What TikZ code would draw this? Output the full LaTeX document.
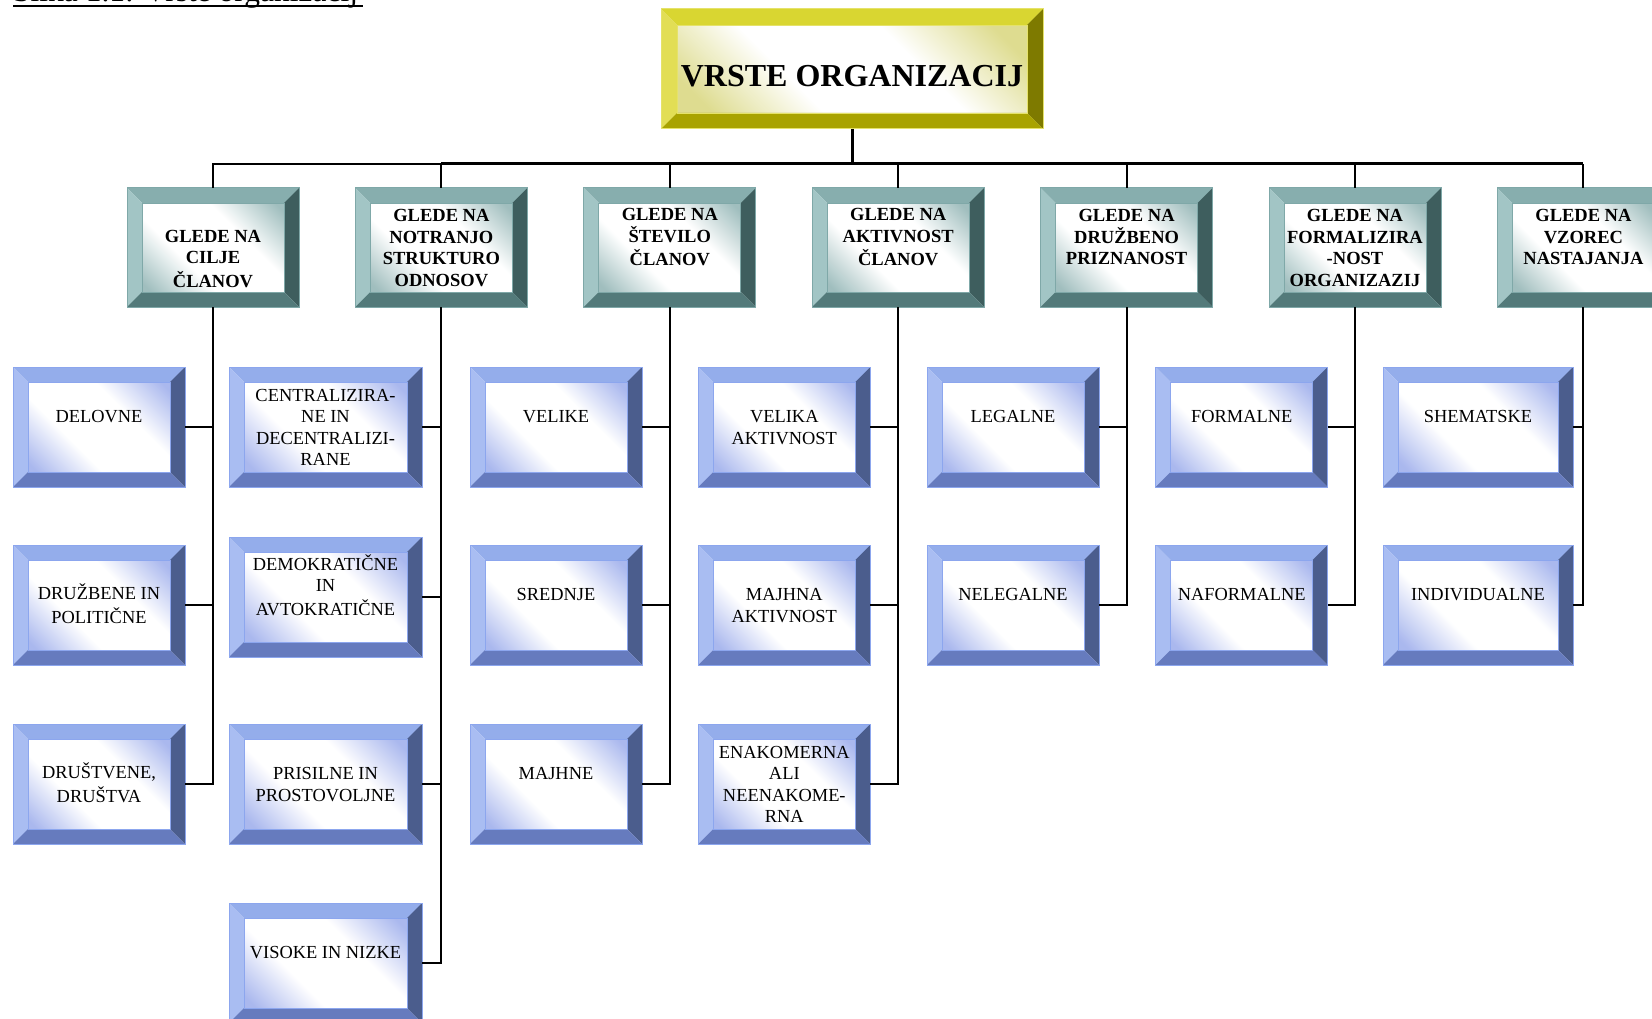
\documentclass[tikz,border=0pt]{standalone}
\usepackage{fontspec}
\setmainfont{Liberation Serif}
\usetikzlibrary{calc}
\definecolor{leafT}{HTML}{94ADEB}
\definecolor{leafL}{HTML}{A9BDF2}
\definecolor{leafR}{HTML}{4B5D8D}
\definecolor{leafB}{HTML}{667BBE}
\definecolor{leafF}{HTML}{AAB8EE}
\definecolor{leafO}{HTML}{8CA6EE}
\definecolor{catT}{HTML}{87AEAE}
\definecolor{catL}{HTML}{A2C5C5}
\definecolor{catR}{HTML}{3E5E5E}
\definecolor{catB}{HTML}{537A7A}
\definecolor{catF}{HTML}{A0BEBE}
\definecolor{catO}{HTML}{7FA8A8}
\definecolor{ttlT}{HTML}{D9D631}
\definecolor{ttlL}{HTML}{E2DE55}
\definecolor{ttlR}{HTML}{7E7A00}
\definecolor{ttlB}{HTML}{A9A300}
\definecolor{ttlF}{HTML}{DEDC90}
\definecolor{ttlO}{HTML}{E5E26A}
\pgfdeclareverticalshading{leafshade}{100bp}{color(0bp)=(leafF); color(24bp)=(leafF); color(40bp)=(white); color(60bp)=(white); color(76bp)=(leafF); color(100bp)=(leafF)}
\pgfdeclareverticalshading{catshade}{100bp}{color(0bp)=(catF); color(24bp)=(catF); color(40bp)=(white); color(60bp)=(white); color(76bp)=(catF); color(100bp)=(catF)}
\pgfdeclareverticalshading{ttlshade}{100bp}{color(0bp)=(ttlF); color(24bp)=(ttlF); color(40bp)=(white); color(60bp)=(white); color(76bp)=(ttlF); color(100bp)=(ttlF)}
\newcommand\fourl[4]{\rule{0pt}{17.3pt}#1\\\strut #2\\\strut #3\\\rule[-4.3pt]{0pt}{10pt}#4}
\newcommand\bev[7]{%
  \fill[#3] (#1.north west) -- (#1.north east) -- ($(#1.north east)+(-#2,-#2)$) -- ($(#1.north west)+(#2,-#2)$) -- cycle;
  \fill[#4] (#1.north west) -- ($(#1.north west)+(#2,-#2)$) -- ($(#1.south west)+(#2,#2)$) -- (#1.south west) -- cycle;
  \fill[#5] (#1.north east) -- (#1.south east) -- ($(#1.south east)+(-#2,#2)$) -- ($(#1.north east)+(-#2,-#2)$) -- cycle;
  \fill[#6] (#1.south west) -- ($(#1.south west)+(#2,#2)$) -- ($(#1.south east)+(-#2,#2)$) -- (#1.south east) -- cycle;
  \draw[#7, line width=1pt] (#1.north west) rectangle (#1.south east);
  \draw[#7, line width=0.8pt] ($(#1.north west)+(#2,-#2)$) rectangle ($(#1.south east)+(-#2,#2)$);
}
\tikzset{
  basebox/.style={rectangle, inner sep=0pt, outer sep=0pt, align=center, text=black},
  leaf/.style={basebox, shade, shading=leafshade, shading angle=-45, minimum width=172pt, minimum height=120pt, font=\fontsize{18.4}{21.6}\selectfont},
  cat/.style={basebox, shade, shading=catshade, shading angle=-45, minimum width=172pt, minimum height=119pt, font=\bfseries\fontsize{18.5}{21.6}\selectfont},
  ttl/.style={basebox, shade, shading=ttlshade, shading angle=-45, minimum width=382pt, minimum height=120pt, font=\bfseries\fontsize{32}{38}\selectfont},
  conn/.style={draw=black, line width=2pt},
}
\begin{document}
\begin{tikzpicture}[x=1pt, y=-1pt]
\useasboundingbox (0,0) rectangle (1652,1019);
\fill[white] (0,0) rectangle (1652,1019);
% caption (cut off at the top, as in the reference)
\node[anchor=base west, inner sep=0pt, font=\fontsize{31.5}{36}\selectfont] (cap) at (13,2) {Slika 1.1: Vrste organizacij};
\draw[line width=2pt] ([yshift=-4pt]cap.base west) -- ([yshift=-4pt,xshift=5pt]cap.base east);
% title
\node[ttl] (title) at (852,69) {\raisebox{-17.5pt}[0pt][0pt]{VRSTE ORGANIZACIJ}};
% categories
\node[cat] (k1) at (213,247.5) {\fourl{}{GLEDE NA}{CILJE}{ČLANOV}};
\node[cat] (k2) at (441.4,247.5) {\fourl{GLEDE NA}{NOTRANJO}{STRUKTURO}{ODNOSOV}};
\node[cat] (k3) at (669.8,247.5) {\fourl{GLEDE NA}{ŠTEVILO}{ČLANOV}{}};
\node[cat] (k4) at (898.2,247.5) {\fourl{GLEDE NA}{AKTIVNOST}{ČLANOV}{}};
\node[cat] (k5) at (1126.6,247.5) {\fourl{GLEDE NA}{DRUŽBENO}{PRIZNANOST}{}};
\node[cat] (k6) at (1355,247.5) {\fourl{GLEDE NA}{FORMALIZIRA}{-NOST}{ORGANIZAZIJ}};
\node[cat] (k7) at (1583.4,247.5) {\fourl{GLEDE NA}{VZOREC}{NASTAJANJA}{}};
% leaves
\node[leaf] (a1) at (99,427) {\fourl{}{DELOVNE}{}{}};
\node[leaf] (a2) at (99,605) {\fourl{}{DRUŽBENE IN}{POLITIČNE}{}};
\node[leaf] (a3) at (99,784) {\fourl{}{DRUŠTVENE,}{DRUŠTVA}{}};
\node[leaf, minimum width=193pt] (b1) at (325.5,427) {\fourl{CENTRALIZIRA-}{NE IN}{DECENTRALIZI-}{RANE}};
\node[leaf, minimum width=193pt] (b2) at (325.5,597) {\fourl{DEMOKRATIČNE}{IN}{AVTOKRATIČNE}{}};
\node[leaf, minimum width=193pt] (b3) at (325.5,784) {\fourl{}{PRISILNE IN}{PROSTOVOLJNE}{}};
\node[leaf, minimum width=193pt] (b4) at (325.5,963) {\fourl{}{VISOKE IN NIZKE}{}{}};
\node[leaf] (c1) at (556,427) {\fourl{}{VELIKE}{}{}};
\node[leaf] (c2) at (556,605) {\fourl{}{SREDNJE}{}{}};
\node[leaf] (c3) at (556,784) {\fourl{}{MAJHNE}{}{}};
\node[leaf] (d1) at (784.3,427) {\fourl{}{VELIKA}{AKTIVNOST}{}};
\node[leaf] (d2) at (784.3,605) {\fourl{}{MAJHNA}{AKTIVNOST}{}};
\node[leaf] (d3) at (784.3,784) {\fourl{ENAKOMERNA}{ALI}{NEENAKOME-}{RNA}};
\node[leaf] (e1) at (1013,427) {\fourl{}{LEGALNE}{}{}};
\node[leaf] (e2) at (1013,605) {\fourl{}{NELEGALNE}{}{}};
\node[leaf] (f1) at (1241.7,427) {\fourl{}{FORMALNE}{}{}};
\node[leaf] (f2) at (1241.7,605) {\fourl{}{NAFORMALNE}{}{}};
\node[leaf, minimum width=190pt] (g1) at (1478,427) {\fourl{}{SHEMATSKE}{}{}};
\node[leaf, minimum width=190pt] (g2) at (1478,605) {\fourl{}{INDIVIDUALNE}{}{}};
% bevels
\bev{title}{16pt}{ttlT}{ttlL}{ttlR}{ttlB}{ttlO}
\foreach \n in {k1,k2,k3,k4,k5,k6,k7} {\bev{\n}{15pt}{catT}{catL}{catR}{catB}{catO}}
\foreach \n in {a1,a2,a3,b1,b2,b3,b4,c1,c2,c3,d1,d2,d3,e1,e2,f1,f2,g1,g2} {\bev{\n}{15pt}{leafT}{leafL}{leafR}{leafB}{leafO}}
% connectors
\coordinate (bus) at (852,164);
\draw[conn, line width=3pt] (title.south) -- (title.south |- bus);
\draw[conn] (k1.north) |- (k2.north |- bus);
\draw[conn, line width=3pt] (k2.north |- bus) -- (k7.north |- bus);
\foreach \k in {k2,k3,k4,k5,k6,k7} {\draw[conn] (\k.north) -- (\k.north |- bus);}
\draw[conn] (k1.south) |- (a3.east);
\draw[conn] (k2.south) |- (b4.east);
\draw[conn] (k3.south) |- (c3.east);
\draw[conn] (k4.south) |- (d3.east);
\draw[conn] (k5.south) |- (e2.east);
\draw[conn] (k6.south) |- (f2.east);
\draw[conn] (k7.south) |- (g2.east);
\foreach \l/\k in {a1/k1,a2/k1,b1/k2,b2/k2,b3/k2,c1/k3,c2/k3,d1/k4,d2/k4,e1/k5,f1/k6,g1/k7} {\draw[conn] (\l.east) -- (\l.east -| \k.south);}
\end{tikzpicture}
\end{document}
